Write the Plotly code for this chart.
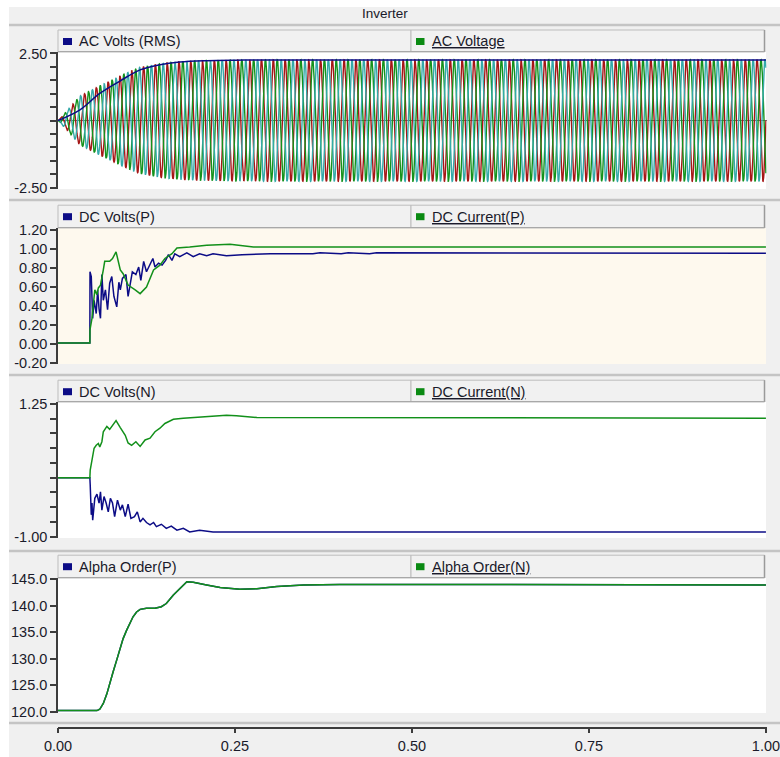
import numpy as np
import plotly.graph_objects as go

W, H = 780, 757

# ---------------- data ----------------
# AC panel: envelope of the 3-phase AC voltage and the RMS reading
ac_env_t = [0.0, 0.012, 0.031, 0.059, 0.088, 0.116, 0.144, 0.172, 0.224, 0.30, 1.0]
ac_env_v = [0.0, 0.35, 0.91, 1.29, 1.67, 1.99, 2.12, 2.21, 2.25, 2.27, 2.27]
ac_freq_hz = 60.0
rms_t = [0.0, 0.031, 0.059, 0.088, 0.116, 0.144, 0.172, 0.21, 0.25, 0.30, 1.0]
rms_v = [0.0, 0.40, 1.01, 1.48, 1.89, 2.08, 2.18, 2.23, 2.25, 2.26, 2.26]

# DC panel (P)
dci_p_t = [0.0, 0.045, 0.0452, 0.048, 0.052, 0.055, 0.057, 0.060, 0.064, 0.066, 0.073, 0.077,
           0.082, 0.088, 0.092, 0.099, 0.109, 0.116, 0.125, 0.135, 0.144, 0.151, 0.161, 0.168,
           0.186, 0.21, 0.243, 0.276, 1.0]
dci_p_v = [0.01, 0.01, 0.15, 0.27, 0.57, 0.52, 0.59, 0.62, 0.78, 0.87, 0.87, 0.90,
           0.97, 0.78, 0.74, 0.62, 0.57, 0.53, 0.60, 0.78, 0.83, 0.90, 0.95, 1.01,
           1.02, 1.04, 1.05, 1.02, 1.02]
dcv_p_t = [0.0, 0.045, 0.0452, 0.047, 0.049, 0.051, 0.054, 0.056, 0.058, 0.060, 0.062, 0.064,
           0.067, 0.070, 0.073, 0.076, 0.079, 0.083, 0.086, 0.088, 0.091, 0.096, 0.099, 0.102,
           0.105, 0.110, 0.114, 0.117, 0.121, 0.125, 0.130, 0.134, 0.137, 0.142, 0.147, 0.152,
           0.156, 0.161, 0.165, 0.172, 0.182, 0.191, 0.200, 0.210, 0.219, 0.238, 0.26, 0.30,
           0.36, 0.37, 0.40, 0.41, 0.44, 0.45, 1.0]
dcv_p_v = [0.01, 0.01, 0.76, 0.71, 0.27, 0.46, 0.32, 0.57, 0.37, 0.27, 0.73, 0.46,
           0.57, 0.36, 0.64, 0.71, 0.50, 0.39, 0.65, 0.57, 0.69, 0.73, 0.50, 0.62,
           0.76, 0.73, 0.81, 0.67, 0.87, 0.76, 0.83, 0.90, 0.81, 0.85, 0.83, 0.88,
           0.94, 0.88, 0.95, 0.92, 0.96, 0.92, 0.95, 0.93, 0.95, 0.93, 0.94, 0.95,
           0.95, 0.96, 0.95, 0.96, 0.95, 0.96, 0.955]

# DC panel (N)
dci_n_t = [0.0, 0.045, 0.0455, 0.048, 0.051, 0.054, 0.057, 0.059, 0.062, 0.064, 0.069, 0.073,
           0.077, 0.082, 0.088, 0.095, 0.099, 0.104, 0.110, 0.116, 0.123, 0.130, 0.137, 0.144,
           0.151, 0.163, 0.177, 0.191, 0.21, 0.238, 0.252, 0.281, 1.0]
dci_n_v = [0.0, 0.0, 0.13, 0.33, 0.50, 0.55, 0.58, 0.52, 0.61, 0.78, 0.87, 0.82,
           0.89, 0.97, 0.85, 0.72, 0.59, 0.55, 0.61, 0.53, 0.64, 0.67, 0.78, 0.84,
           0.92, 0.99, 1.01, 1.02, 1.04, 1.06, 1.05, 1.02, 1.01]
dcv_n_t = [0.0, 0.045, 0.0455, 0.047, 0.048, 0.049, 0.052, 0.055, 0.058, 0.060, 0.062, 0.065,
           0.068, 0.071, 0.074, 0.077, 0.080, 0.084, 0.088, 0.091, 0.095, 0.099, 0.103, 0.108,
           0.112, 0.116, 0.120, 0.125, 0.130, 0.135, 0.139, 0.146, 0.153, 0.160, 0.168, 0.177,
           0.186, 0.200, 0.219, 0.257, 1.0]
dcv_n_v = [0.0, 0.0, -0.12, -0.63, -0.43, -0.72, -0.35, -0.28, -0.43, -0.24, -0.55, -0.32,
           -0.43, -0.58, -0.35, -0.43, -0.66, -0.38, -0.55, -0.46, -0.66, -0.45, -0.69, -0.66,
           -0.58, -0.75, -0.69, -0.76, -0.80, -0.76, -0.83, -0.79, -0.86, -0.82, -0.89, -0.86,
           -0.92, -0.89, -0.92, -0.92, -0.92]

# Alpha order panel
alpha_t = [0.0, 0.055, 0.059, 0.064, 0.069, 0.073, 0.078, 0.083, 0.088, 0.092, 0.097, 0.102,
           0.106, 0.111, 0.116, 0.125, 0.137, 0.146, 0.153, 0.163, 0.172, 0.179, 0.182, 0.191,
           0.200, 0.21, 0.229, 0.257, 0.281, 0.309, 0.347, 0.398, 0.64, 0.83, 1.0]
alpha_n = [120.25, 120.25, 120.5, 121.6, 123.4, 125.4, 127.6, 129.8, 132.0, 133.8, 135.4, 136.8,
           137.9, 138.8, 139.3, 139.5, 139.5, 139.8, 140.4, 142.0, 143.2, 144.2, 144.5, 144.4,
           144.2, 143.9, 143.4, 143.1, 143.2, 143.6, 143.9, 144.0, 144.0, 143.9, 143.9]
alpha_p = list(alpha_n)

# ticks / labels
x_tick_vals = [0.0, 0.25, 0.5, 0.75, 1.0]
x_tick_text = ["0.00", "0.25", "0.50", "0.75", "1.00"]
p1_tick_vals = [-2.5, -2.0, -1.5, -1.0, -0.5, 0.0, 0.5, 1.0, 1.5, 2.0, 2.5]
p1_tick_text = ["-2.50", "", "", "", "", "", "", "", "", "", "2.50"]
p2_tick_vals = [-0.2, 0.0, 0.2, 0.4, 0.6, 0.8, 1.0, 1.2]
p2_tick_text = ["-0.20", "0.00", "0.20", "0.40", "0.60", "0.80", "1.00", "1.20"]
p3_tick_vals = [-1.0, -0.75, -0.5, -0.25, 0.0, 0.25, 0.5, 0.75, 1.0, 1.25]
p3_tick_text = ["-1.00", "", "", "", "", "", "", "", "", "1.25"]
p4_tick_vals = [120, 125, 130, 135, 140, 145]
p4_tick_text = ["120.0", "125.0", "130.0", "135.0", "140.0", "145.0"]

title_text = "Inverter"
legend_left = ["AC Volts (RMS)", "DC Volts(P)", "DC Volts(N)", "Alpha Order(P)"]
legend_right = ["AC Voltage", "DC Current(P)", "DC Current(N)", "Alpha Order(N)"]

# ---------------- styling ----------------
NAVY = "#0c0c86"
GREEN = "#12901a"
AC_COLORS = ["#a51616", "#14921c", "#34a9a9"]
AX = "#3c3c3c"
TXT = "#1a1a2a"
FONT = "Liberation Sans, Arial, sans-serif"
FS = 14.5


def fx(px):
    return px / W


def fy(py):
    return 1 - py / H


# panel geometry in pixels: (plot top, plot bottom, header text centre)
X0, X1 = 58, 766.5
X_RANGE = [0, 1.0008]
panels = [
    dict(top=52, bot=189, yc=41.5, rng=[-2.555, 2.555], bg="white"),
    dict(top=228, bot=364, yc=216.7, rng=[-0.211, 1.221], bg="#fef9ee"),
    dict(top=402, bot=538, yc=391.7, rng=[-1.023, 1.284], bg="white"),
    dict(top=578, bot=713, yc=566.7, rng=[119.8, 145.2], bg="white"),
]

fig = go.Figure()

# ---- AC panel traces ----
t_ac = np.arange(0, 1.0 + 1e-9, 0.0004)
amp = np.interp(t_ac, ac_env_t, ac_env_v)
for k, col in enumerate(AC_COLORS):
    yv = amp * np.sin(2 * np.pi * ac_freq_hz * t_ac - k * 2 * np.pi / 3)
    fig.add_trace(go.Scatter(x=t_ac, y=yv, mode="lines", line=dict(color=col, width=1.4),
                             xaxis="x", yaxis="y", hoverinfo="skip"))
fig.add_trace(go.Scatter(x=rms_t, y=rms_v, mode="lines", line=dict(color=NAVY, width=1.5),
                         line_shape="spline", xaxis="x", yaxis="y"))

# ---- DC P ----
fig.add_trace(go.Scatter(x=dcv_p_t, y=dcv_p_v, mode="lines", line=dict(color=NAVY, width=1.5),
                         xaxis="x2", yaxis="y2"))
fig.add_trace(go.Scatter(x=dci_p_t, y=dci_p_v, mode="lines", line=dict(color=GREEN, width=1.5),
                         xaxis="x2", yaxis="y2"))
# ---- DC N ----
fig.add_trace(go.Scatter(x=dcv_n_t, y=dcv_n_v, mode="lines", line=dict(color=NAVY, width=1.5),
                         xaxis="x3", yaxis="y3"))
fig.add_trace(go.Scatter(x=dci_n_t, y=dci_n_v, mode="lines", line=dict(color=GREEN, width=1.5),
                         xaxis="x3", yaxis="y3"))
# ---- Alpha ----
fig.add_trace(go.Scatter(x=alpha_t, y=alpha_p, mode="lines", line=dict(color=NAVY, width=1.5),
                         xaxis="x4", yaxis="y4"))
fig.add_trace(go.Scatter(x=alpha_t, y=alpha_n, mode="lines", line=dict(color=GREEN, width=1.5),
                         xaxis="x4", yaxis="y4"))

shapes = []
# frame background
shapes.append(dict(type="rect", xref="paper", yref="paper", x0=fx(9), x1=1, y0=0, y1=fy(7),
                   fillcolor="#f0f0f0", line=dict(width=0), layer="below"))
# separators
for sy in [25, 200, 375, 551, 723]:
    shapes.append(dict(type="line", xref="paper", yref="paper", x0=fx(9), x1=1, y0=fy(sy), y1=fy(sy),
                       line=dict(color="#c4c4c4", width=2.5), layer="below"))

annotations = [dict(text=title_text, x=fx(385), y=fy(14), xref="paper", yref="paper",
                    showarrow=False, xanchor="center", yanchor="middle",
                    font=dict(family=FONT, size=FS - 1, color=TXT))]

layout_axes = {}
tick_sets = [(p1_tick_vals, p1_tick_text), (p2_tick_vals, p2_tick_text),
             (p3_tick_vals, p3_tick_text), (p4_tick_vals, p4_tick_text)]

for i, p in enumerate(panels):
    n = i + 1
    # plot background
    shapes.append(dict(type="rect", xref="paper", yref="paper", x0=fx(X0), x1=fx(766),
                       y0=fy(p["bot"]), y1=fy(p["top"]), fillcolor=p["bg"], line=dict(width=0),
                       layer="below"))
    # header boxes
    htop = p["yc"] - 11.5
    hbot = p["top"]
    shapes.append(dict(type="rect", xref="paper", yref="paper", x0=fx(X0), x1=fx(411),
                       y0=fy(hbot), y1=fy(htop), fillcolor="#f1f1f1",
                       line=dict(color="#bdbdbd", width=1), layer="below"))
    shapes.append(dict(type="rect", xref="paper", yref="paper", x0=fx(411), x1=fx(764.5),
                       y0=fy(hbot), y1=fy(htop), fillcolor="#f1f1f1",
                       line=dict(color="#bdbdbd", width=1), layer="below"))
    shapes.append(dict(type="line", xref="paper", yref="paper", x0=fx(764.5), x1=fx(764.5),
                       y0=fy(hbot), y1=fy(htop), line=dict(color="#9a9a9a", width=1.5), layer="below"))
    shapes.append(dict(type="line", xref="paper", yref="paper", x0=fx(X0), x1=fx(764.5),
                       y0=fy(hbot - 0.5), y1=fy(hbot - 0.5), line=dict(color="#a8a8a8", width=1),
                       layer="below"))
    # legend swatches
    shapes.append(dict(type="rect", xref="paper", yref="paper", x0=fx(63), x1=fx(72),
                       y0=fy(p["yc"] + 3.5), y1=fy(p["yc"] - 3.5), fillcolor=NAVY,
                       line=dict(width=0)))
    shapes.append(dict(type="rect", xref="paper", yref="paper", x0=fx(416), x1=fx(424.5),
                       y0=fy(p["yc"] + 3.5), y1=fy(p["yc"] - 3.5), fillcolor="#0a8a12",
                       line=dict(width=0)))
    annotations.append(dict(text=legend_left[i], x=fx(77), y=fy(p["yc"]), xref="paper", yref="paper",
                            showarrow=False, xanchor="left", yanchor="middle",
                            font=dict(family=FONT, size=FS, color=TXT)))
    annotations.append(dict(text="<u>" + legend_right[i] + "</u>", x=fx(430), y=fy(p["yc"]),
                            xref="paper", yref="paper",
                            showarrow=False, xanchor="left", yanchor="middle",
                            font=dict(family=FONT, size=FS, color=TXT)))

    xa = dict(domain=[fx(X0), fx(X1)], range=X_RANGE, showgrid=False, zeroline=False,
              fixedrange=True, automargin=False)
    if n < 4:
        xa.update(anchor="y" if n == 1 else f"y{n}", showticklabels=False, showline=False, ticks="")
    else:
        xa.update(anchor="free", position=fy(727.5), tickvals=x_tick_vals, ticktext=x_tick_text,
                  ticks="outside", ticklen=5, tickwidth=1.5, tickcolor=AX, showline=True,
                  linecolor=AX, linewidth=1.5, ticklabeloverflow="allow",
                  tickfont=dict(family=FONT, size=FS, color=TXT))
    tv, tt = tick_sets[i]
    ya = dict(domain=[fy(p["bot"]), fy(p["top"])], range=p["rng"], showgrid=False,
              zeroline=(n == 1), zerolinecolor="#707070", zerolinewidth=1, automargin=False,
              anchor="x" if n == 1 else f"x{n}", tickvals=tv, ticktext=tt, ticks="outside",
              ticklen=6, tickwidth=1.5, tickcolor=AX, showline=True, linecolor=AX, linewidth=1.5,
              ticklabeloverflow="allow",
              tickfont=dict(family=FONT, size=FS, color=TXT), fixedrange=True)
    key = "" if n == 1 else str(n)
    layout_axes["xaxis" + key] = xa
    layout_axes["yaxis" + key] = ya

fig.update_layout(width=W, height=H, margin=dict(l=0, r=0, t=0, b=0, autoexpand=False),
                  paper_bgcolor="white", plot_bgcolor="rgba(0,0,0,0)", showlegend=False,
                  shapes=shapes, annotations=annotations, font=dict(family=FONT, size=FS, color=TXT),
                  **layout_axes)

fig.write_html("out.html", config={"displayModeBar": False},
               post_script="document.body.style.margin='0px';document.body.style.padding='0px';"
                           "document.body.style.overflow='hidden';")
